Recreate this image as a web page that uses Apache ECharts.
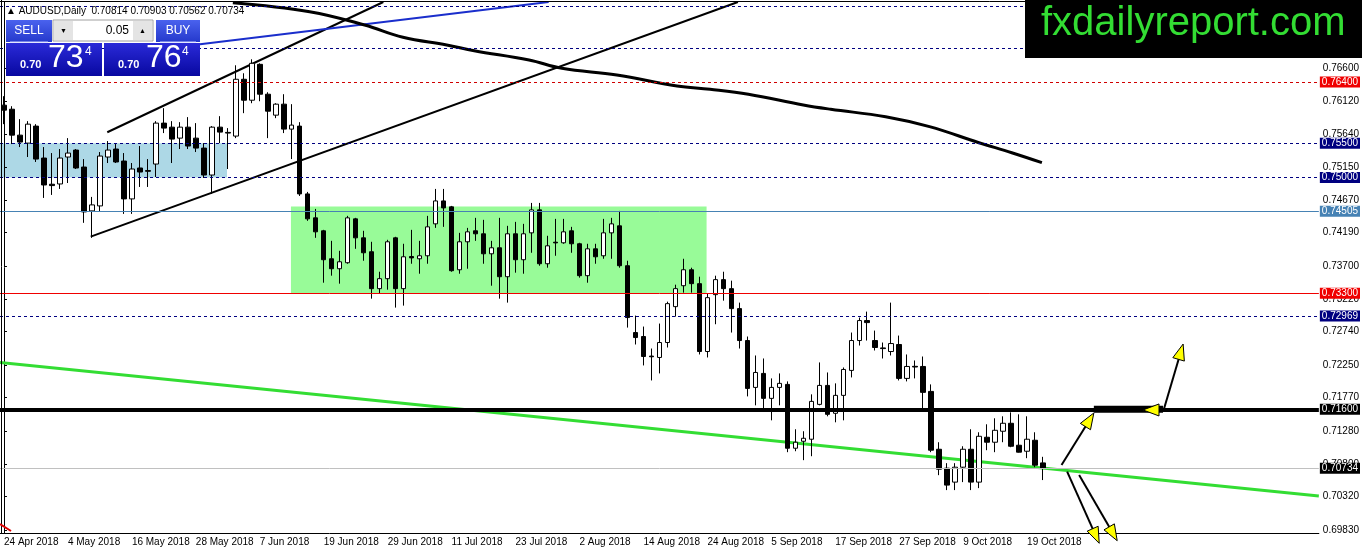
<!DOCTYPE html>
<html>
<head>
<meta charset="utf-8">
<script src="https://cdn.jsdelivr.net/npm/echarts@6/dist/echarts.min.js"></script>
<style>
  html, body { margin: 0; padding: 0; background: #fff; }
  #chart { width: 1362px; height: 554px; }
</style>
</head>
<body>
<div id="chart"></div>
<script>
// AUDUSD daily candles, 24 Apr 2018 -> 23 Oct 2018
var opens = [0.76059,0.76000,0.75620,0.75503,0.75752,0.75284,0.74900,0.74904,0.75299,0.75401,
  0.75152,0.74509,0.74582,0.75299,0.75416,0.75240,0.74685,0.75138,0.75100,0.75196,
  0.75796,0.75737,0.75576,0.75737,0.75576,0.75430,0.75035,0.75737,0.75660,0.75606,
  0.76439,0.76132,0.76658,0.76220,0.75913,0.76074,0.75708,0.75752,0.74758,0.74407,
  0.74217,0.73807,0.73661,0.73749,0.74392,0.74114,0.73910,0.73369,0.73515,0.74114,
  0.73369,0.73840,0.73807,0.73851,0.74319,0.74655,0.74568,0.73646,0.74056,0.74217,
  0.74173,0.73880,0.73968,0.73544,0.74173,0.73793,0.74187,0.74524,0.73734,0.74050,
  0.74041,0.74217,0.74027,0.73559,0.73953,0.73851,0.74187,0.74290,0.73705,0.72725,
  0.72667,0.72380,0.72360,0.72579,0.73105,0.73412,0.73646,0.73442,0.72447,0.73281,
  0.73501,0.73369,0.73076,0.72608,0.71921,0.72126,0.71760,0.71921,0.71965,0.71029,
  0.71131,0.71161,0.71672,0.71950,0.71541,0.71804,0.72170,0.72608,0.72901,0.72608,
  0.72500,0.72447,0.72550,0.72053,0.72230,0.72228,0.71862,0.71014,0.70737,0.70532,
  0.70751,0.71014,0.70532,0.71190,0.71117,0.71278,0.71395,0.71073,0.70985,0.71146,
  0.70814];
var closes = [0.75986,0.75620,0.75518,0.75781,0.75269,0.74889,0.74880,0.75284,0.75357,0.75138,
  0.74494,0.74597,0.75313,0.75401,0.75226,0.74685,0.75123,0.75079,0.75090,0.75796,
  0.75723,0.75562,0.75737,0.75460,0.75430,0.75035,0.75737,0.75664,0.75650,0.76439,
  0.76132,0.76673,0.76220,0.75971,0.76074,0.75708,0.75767,0.74758,0.74392,0.74202,
  0.73793,0.73661,0.73763,0.74407,0.74114,0.73895,0.73369,0.73515,0.74056,0.73369,
  0.73836,0.73820,0.73851,0.74275,0.74655,0.74553,0.73632,0.74056,0.74202,0.74173,
  0.73880,0.73968,0.73544,0.74173,0.73793,0.74173,0.74524,0.73734,0.73997,0.74040,
  0.74202,0.74027,0.73559,0.73953,0.73836,0.74187,0.74319,0.73705,0.72945,0.72652,
  0.72374,0.72370,0.72579,0.73149,0.73369,0.73646,0.73442,0.72447,0.73237,0.73501,
  0.73369,0.73076,0.72608,0.71906,0.72140,0.71760,0.71921,0.71980,0.71029,0.71117,
  0.71175,0.71716,0.71950,0.71526,0.71804,0.72184,0.72608,0.72901,0.72871,0.72506,
  0.72490,0.72564,0.72053,0.72228,0.72220,0.71848,0.71000,0.70722,0.70488,0.70751,
  0.71014,0.70532,0.71204,0.71117,0.71292,0.71395,0.71058,0.70971,0.71161,0.70780,
  0.70734];
var lows = [0.75781,0.75489,0.75445,0.75299,0.75226,0.74699,0.74743,0.74831,0.74918,0.75123,
  0.74334,0.74114,0.74494,0.75211,0.75211,0.74465,0.74465,0.74860,0.74860,0.75006,
  0.75650,0.75211,0.75416,0.75416,0.75372,0.74992,0.74758,0.75503,0.75123,0.75576,
  0.75942,0.76088,0.76117,0.75576,0.75869,0.75650,0.75269,0.74728,0.74363,0.74114,
  0.73456,0.73559,0.73442,0.73734,0.73953,0.73778,0.73222,0.73295,0.73354,0.73091,
  0.73120,0.73734,0.73588,0.73734,0.74260,0.74275,0.73617,0.73588,0.73661,0.74070,
  0.73734,0.73412,0.73222,0.73164,0.73603,0.73588,0.73895,0.73705,0.73676,0.73851,
  0.74027,0.73895,0.73530,0.73456,0.73734,0.73807,0.73807,0.73676,0.72798,0.72550,
  0.72243,0.72023,0.72126,0.72506,0.72959,0.73310,0.73310,0.72404,0.72360,0.72847,
  0.73193,0.72725,0.72491,0.71789,0.71658,0.71614,0.71438,0.71658,0.70971,0.70985,
  0.70854,0.70912,0.71658,0.71497,0.71409,0.71438,0.72067,0.72535,0.72608,0.72462,
  0.72345,0.72389,0.72023,0.72009,0.72053,0.71614,0.70971,0.70634,0.70415,0.70415,
  0.70532,0.70415,0.70444,0.71000,0.70971,0.71117,0.71044,0.70966,0.70883,0.70751,
  0.70562];
var highs = [0.76191,0.76044,0.75854,0.75825,0.75781,0.75445,0.75357,0.75416,0.75576,0.75416,
  0.75269,0.74714,0.75372,0.75533,0.75489,0.75357,0.75211,0.75460,0.75269,0.75825,
  0.76015,0.75825,0.75810,0.75884,0.75796,0.75503,0.75752,0.75898,0.75723,0.76644,
  0.76527,0.76732,0.76673,0.76249,0.76088,0.76220,0.76074,0.75810,0.74787,0.74538,
  0.74231,0.74070,0.73924,0.74436,0.74407,0.74217,0.74056,0.73617,0.74085,0.74129,
  0.74027,0.74231,0.74070,0.74436,0.74831,0.74831,0.74582,0.74187,0.74260,0.74407,
  0.74378,0.74070,0.74407,0.74290,0.74348,0.74319,0.74626,0.74626,0.74144,0.74392,
  0.74392,0.74275,0.74041,0.74027,0.74027,0.74392,0.74407,0.74509,0.73778,0.72974,
  0.72813,0.72491,0.72857,0.73178,0.73427,0.73807,0.73676,0.73544,0.73295,0.73559,
  0.73617,0.73486,0.73164,0.72667,0.72389,0.72345,0.72053,0.72126,0.72009,0.71307,
  0.71278,0.71819,0.72287,0.72140,0.71980,0.72213,0.72725,0.72945,0.73032,0.72754,
  0.72579,0.73164,0.72681,0.72404,0.72316,0.72374,0.71965,0.71117,0.70810,0.70810,
  0.71058,0.71307,0.71263,0.71380,0.71468,0.71497,0.71555,0.71526,0.71497,0.71263,
  0.70903];

var tickLabels = ['24 Apr 2018', '4 May 2018', '16 May 2018', '28 May 2018', '7 Jun 2018',
  '19 Jun 2018', '29 Jun 2018', '11 Jul 2018', '23 Jul 2018', '2 Aug 2018', '14 Aug 2018',
  '24 Aug 2018', '5 Sep 2018', '17 Sep 2018', '27 Sep 2018', '9 Oct 2018', '19 Oct 2018'];
var labelStep = 8;
var priceTicks = [0.76600, 0.76120, 0.75640, 0.75150, 0.74670, 0.74190, 0.73700, 0.73220,
  0.72740, 0.72250, 0.71770, 0.71280, 0.70800, 0.70320, 0.69830];

// horizontal levels drawn on the chart
var levelPrices = [0.77503, 0.76893, 0.76400, 0.75500, 0.75000, 0.74505, 0.73300, 0.72969, 0.71600, 0.70734];

// boxes: [fromBar, toBar, topPrice, bottomPrice]
var boxes = [[-0.5, 27.9, 0.75500, 0.75000], [35.9, 87.9, 0.74574, 0.73300]];

// trend lines, points as [bar, price]
var lowerChannel = [[10.85, 0.74131], [91.82, 0.77572]];
var upperChannel = [[12.92, 0.75662], [47.46, 0.77572]];
var blueLine = [[24.52, 0.76952], [68.14, 0.77572]];
var greenLine = [[-0.5, 0.72286], [164.5, 0.70329]];
var thickPart = [[136.35, 0.71600], [145.0, 0.71600]];
var maBars = [28.63, 38.24, 45.11, 49.91, 55.39, 58.83, 65.69, 69.80, 76.67, 84.21, 88.33,
  93.13, 100.0, 103.43, 110.3, 115.79, 121.97, 126.08, 129.85];
var maValues = [0.77562, 0.77430, 0.77235, 0.77055, 0.76942, 0.76858, 0.76722, 0.76600, 0.76502,
  0.76340, 0.76292, 0.76219, 0.76062, 0.75999, 0.75890, 0.75744, 0.75509, 0.75362, 0.75216];

// arrows: [fromBar, fromPrice, toBar, toPrice]
var arrows = [
  [132.31, 0.70783, 136.35, 0.71546],
  [145.0, 0.71590, 142.5, 0.71590],
  [145.02, 0.71565, 147.52, 0.72557],
  [133.01, 0.70685, 137.02, 0.69635],
  [134.51, 0.70637, 139.27, 0.69673]
];

var slots = 165;
var dates = [];
var d = new Date(Date.UTC(2018, 3, 24));
while (dates.length < slots) {
  var wd = d.getUTCDay();
  if (wd !== 0 && wd !== 6) dates.push(d.toISOString().slice(0, 10));
  d.setUTCDate(d.getUTCDate() + 1);
}

var candles = opens.map(function (o, i) {
  return [o, closes[i], lows[i], highs[i]];
});

var FONT = 'Liberation Sans';
var NAVY = '#000080';
var levelStyles = [
  { color: NAVY, type: [3, 3], width: 1, tag: null },
  { color: NAVY, type: [3, 3], width: 1, tag: null },
  { color: '#d00000', type: [3, 3], width: 1, tag: '#f00000' },
  { color: NAVY, type: [3, 3], width: 1, tag: NAVY },
  { color: NAVY, type: [3, 3], width: 1, tag: NAVY },
  { color: '#4682b4', type: 'solid', width: 1, tag: '#4682b4' },
  { color: '#f00000', type: 'solid', width: 1, tag: '#f00000' },
  { color: NAVY, type: [3, 3], width: 1, tag: NAVY },
  { color: '#000', type: 'solid', width: 4, tag: '#000' },
  { color: '#c0c0c0', type: 'solid', width: 1, tag: '#000' }
];
var levelData = levelPrices.map(function (p, i) {
  var s = levelStyles[i];
  return {
    yAxis: p,
    name: p.toFixed(5),
    lineStyle: { color: s.color, type: s.type, width: s.width },
    label: s.tag ? {
      show: true, position: 'end', distance: 1, formatter: '{b}',
      color: '#fff', backgroundColor: s.tag, padding: [1, 2, 0, 2],
      fontSize: 10, fontFamily: FONT
    } : { show: false }
  };
});

var boxColors = ['#add8e6', '#98fb98'];

function seg(points, color, width, z, smooth) {
  return {
    type: 'line', xAxisIndex: 1, yAxisIndex: 0, data: points,
    symbol: 'none', smooth: smooth || false, silent: true, z: z,
    lineStyle: { color: color, width: width }
  };
}

var showTick = function (idx) {
  return idx % labelStep === 0 && idx / labelStep < tickLabels.length;
};

var chart = echarts.init(document.getElementById('chart'));

var blueTop = new echarts.graphic.LinearGradient(0, 0, 0, 1, [
  { offset: 0, color: '#4a62ee' }, { offset: 1, color: '#2539cc' }]);
var blueDeep = new echarts.graphic.LinearGradient(0, 0, 0, 1, [
  { offset: 0, color: '#2a2ad8' }, { offset: 1, color: '#0808a0' }]);

function txt(x, y, text, font, fill, align) {
  return {
    type: 'text', x: x, y: y, z: 101,
    style: { text: text, font: font, fill: fill, textAlign: align || 'left', textVerticalAlign: 'middle' }
  };
}

var last = opens.length - 1;
var title = '\u25B2 AUDUSD,Daily  ' + opens[last].toFixed(5) + ' ' + highs[last].toFixed(5) + ' ' +
  lows[last].toFixed(5) + ' ' + closes[last].toFixed(5);

var option = {
  animation: false,
  backgroundColor: '#fff',
  textStyle: { fontFamily: FONT },
  grid: { left: 0, right: 43, top: 2, bottom: 21 },
  xAxis: [{
    type: 'category', data: dates, boundaryGap: true,
    axisLine: { onZero: false, lineStyle: { color: '#000', width: 1 } },
    axisTick: { interval: showTick, alignWithLabel: true, length: 3, lineStyle: { color: '#000' } },
    axisLabel: {
      interval: showTick, align: 'left', margin: 4, color: '#000', fontSize: 10, fontFamily: FONT,
      formatter: function (v, idx) { return tickLabels[idx / labelStep]; }
    },
    splitLine: { show: false }
  }, {
    type: 'value', min: -0.5, max: slots - 0.5, show: false
  }],
  yAxis: {
    type: 'value', position: 'right', min: 0.69786, max: 0.77572,
    axisLine: { show: true, lineStyle: { color: '#000', width: 1 } },
    axisTick: { show: true, length: 3, customValues: priceTicks, lineStyle: { color: '#000' } },
    axisLabel: {
      customValues: priceTicks, margin: 4, color: '#000', fontSize: 10, fontFamily: FONT,
      formatter: function (v) { return v.toFixed(5); }
    },
    splitLine: { show: false }
  },
  series: [
    {
      type: 'custom', xAxisIndex: 1, yAxisIndex: 0, z: 0, silent: true,
      data: boxes, encode: { x: [0, 1], y: [2, 3] },
      renderItem: function (params, api) {
        var a = api.coord([api.value(0), api.value(2)]);
        var b = api.coord([api.value(1), api.value(3)]);
        return {
          type: 'rect',
          shape: { x: a[0], y: a[1], width: b[0] - a[0], height: b[1] - a[1] },
          style: { fill: boxColors[params.dataIndex] }
        };
      }
    },
    Object.assign(seg(greenLine, '#33dd33', 3, 1), {
      markLine: { silent: true, precision: 5, symbol: ['none', 'none'], data: levelData, animation: false }
    }),
    seg(lowerChannel, '#000', 2, 1),
    seg(upperChannel, '#000', 2, 1),
    seg(blueLine, '#1a2ecc', 2, 1),
    seg(maBars.map(function (b, i) { return [b, maValues[i]]; }), '#000', 3, 1, 0.4),
    seg(thickPart, '#000', 7, 2),
    {
      type: 'candlestick', xAxisIndex: 0, yAxisIndex: 0, z: 3, data: candles, barWidth: 5,
      itemStyle: { color: '#fff', color0: '#000', borderColor: '#000', borderColor0: '#000', borderWidth: 1 }
    },
    {
      type: 'custom', xAxisIndex: 1, yAxisIndex: 0, z: 5, silent: true, clip: false,
      data: arrows, encode: { x: [0, 2], y: [1, 3] },
      renderItem: function (params, api) {
        var a = api.coord([api.value(0), api.value(1)]);
        var b = api.coord([api.value(2), api.value(3)]);
        var dx = b[0] - a[0], dy = b[1] - a[1];
        var len = Math.sqrt(dx * dx + dy * dy);
        var ux = dx / len, uy = dy / len, L = 16, H = 6;
        var bx = b[0] - ux * L, by = b[1] - uy * L;
        return {
          type: 'group',
          children: [
            { type: 'line', shape: { x1: a[0], y1: a[1], x2: bx + ux * 4, y2: by + uy * 4 },
              style: { stroke: '#000', lineWidth: 2 } },
            { type: 'polygon',
              shape: { points: [[b[0], b[1]], [bx - uy * H, by + ux * H], [bx + uy * H, by - ux * H]] },
              style: { fill: '#ffff00', stroke: '#000', lineWidth: 1 } }
          ]
        };
      }
    }
  ],
  graphic: [
    // chart frame edges
    { type: 'line', z: 100, shape: { x1: 1.5, y1: 0, x2: 1.5, y2: 533 }, style: { stroke: '#000', lineWidth: 1 } },
    { type: 'line', z: 100, shape: { x1: 0, y1: 1.5, x2: 1319, y2: 1.5 }, style: { stroke: '#000', lineWidth: 1 } },
    { type: 'line', z: 100, shape: { x1: 0, y1: 524, x2: 11, y2: 531 }, style: { stroke: '#e00000', lineWidth: 2 } },
    // symbol line
    txt(6, 11, title, '10px "' + FONT + '"', '#000'),
    // one click trading panel
    { type: 'rect', z: 100, shape: { x: 6, y: 20, width: 46, height: 22 }, style: { fill: blueTop } },
    { type: 'line', z: 101, shape: { x1: 10, y1: 42, x2: 48, y2: 42 }, style: { stroke: '#c8d0ff', lineWidth: 1 } },
    txt(29, 31, 'SELL', '12px "' + FONT + '"', '#fff', 'center'),
    { type: 'rect', z: 100, shape: { x: 53, y: 20, width: 100, height: 21 }, style: { fill: '#fff', stroke: '#a0a0a0', lineWidth: 1 } },
    { type: 'rect', z: 100, shape: { x: 54, y: 21, width: 19, height: 19 }, style: { fill: '#e4e4e4' } },
    { type: 'rect', z: 100, shape: { x: 133, y: 21, width: 19, height: 19 }, style: { fill: '#e4e4e4' } },
    txt(63.5, 31, '\u25BC', '7px "' + FONT + '"', '#000', 'center'),
    txt(142.5, 31, '\u25B2', '7px "' + FONT + '"', '#000', 'center'),
    txt(129, 31, '0.05', '12px "' + FONT + '"', '#000', 'right'),
    { type: 'rect', z: 100, shape: { x: 156, y: 20, width: 44, height: 22 }, style: { fill: blueTop } },
    { type: 'line', z: 101, shape: { x1: 160, y1: 42, x2: 196, y2: 42 }, style: { stroke: '#c8d0ff', lineWidth: 1 } },
    txt(178, 31, 'BUY', '12px "' + FONT + '"', '#fff', 'center'),
    { type: 'rect', z: 100, shape: { x: 6, y: 43, width: 96, height: 33 }, style: { fill: blueDeep } },
    { type: 'rect', z: 100, shape: { x: 104, y: 43, width: 96, height: 33 }, style: { fill: blueDeep } },
    txt(20, 65, '0.70', 'bold 11px "' + FONT + '"', '#fff'),
    txt(48, 58.5, '73', '32px "' + FONT + '"', '#fff'),
    txt(85, 51.5, '4', '12px "' + FONT + '"', '#fff'),
    txt(118, 65, '0.70', 'bold 11px "' + FONT + '"', '#fff'),
    txt(146, 58.5, '76', '32px "' + FONT + '"', '#fff'),
    txt(182, 51.5, '4', '12px "' + FONT + '"', '#fff'),
    // watermark
    { type: 'rect', z: 100, shape: { x: 1025, y: 0, width: 337, height: 58 }, style: { fill: '#000' } },
    txt(1041, 24, 'fxdailyreport.com', '40px "' + FONT + '"', '#33dd33')
  ]
};

chart.setOption(option);
</script>
</body>
</html>
